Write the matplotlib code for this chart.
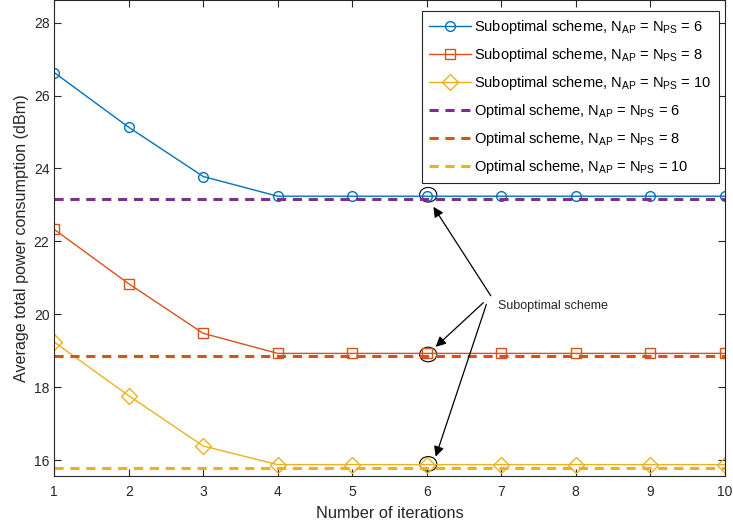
import matplotlib
matplotlib.use('Agg')
import matplotlib.pyplot as plt
from matplotlib.patches import Ellipse

plt.rcParams['font.family'] = ['Liberation Sans', 'DejaVu Sans']
plt.rcParams['mathtext.fontset'] = 'custom'
plt.rcParams['mathtext.rm'] = 'Liberation Sans'

iteracoes = [1, 2, 3, 4, 5, 6, 7, 8, 9, 10]
sub6 = [26.63, 25.13, 23.78, 23.24, 23.24, 23.24, 23.24, 23.24, 23.24, 23.24]
sub8 = [22.33, 20.84, 19.48, 18.93, 18.93, 18.93, 18.93, 18.93, 18.93, 18.93]
sub10 = [19.24, 17.77, 16.39, 15.88, 15.88, 15.88, 15.88, 15.88, 15.88, 15.88]
otimo = [23.15, 18.86, 15.80]
nomes = ['6', '8', '10']

azul = '#0072BD'
vermelho = '#D95319'
amarelo = '#EDB120'
roxo = '#7E2F8E'
cinza = '#262626'

fig = plt.figure(figsize=(7.33, 5.29), dpi=100)
ax = fig.add_axes([0.074, 0.101, 0.9147, 0.899])

sub_label = r'Suboptimal scheme, N$_{\mathregular{AP}}$ = N$_{\mathregular{PS}}$ = '
opt_label = r'Optimal scheme, N$_{\mathregular{AP}}$ = N$_{\mathregular{PS}}$ = '

ax.plot(iteracoes, sub6, '-o', color=azul, lw=1, ms=7, mfc='none', mew=1, label=sub_label + nomes[0])
ax.plot(iteracoes, sub8, '-s', color=vermelho, lw=1, ms=7, mfc='none', mew=1, label=sub_label + nomes[1])
ax.plot(iteracoes, sub10, '-D', color=amarelo, lw=1, ms=8, mfc='none', mew=1, label=sub_label + nomes[2])
for valor, cor, n in zip(otimo, [roxo, vermelho, amarelo], nomes):
    ax.plot(iteracoes, [valor] * len(iteracoes), '--', color=cor, lw=2.2, dashes=(3, 2.2), label=opt_label + n)

# elipses e setas da anotação
for y in [23.28, 18.9, 15.9]:
    ax.add_patch(Ellipse((6.02, y), 0.23, 0.4, fill=False, color='k', lw=0.8))
ax.text(6.95, 20.24, 'Suboptimal scheme', fontsize=9, va='center', ha='left', color=cinza)
for (x0, y0), (x1, y1) in [((6.86, 20.51), (6.09, 22.95)),
                          ((6.76, 20.32), (6.12, 19.11)),
                          ((6.80, 20.27), (6.12, 16.10))]:
    ax.annotate('', xy=(x1, y1), xytext=(x0, y0),
                arrowprops=dict(arrowstyle='-|>', color='k', lw=0.9, mutation_scale=15,
                                shrinkA=0, shrinkB=0))

ax.set_xlim(1, 10)
ax.set_ylim(15.58, 28.62)
ax.set_xticks(iteracoes)
ax.set_yticks([16, 18, 20, 22, 24, 26, 28])
ax.tick_params(direction='in', top=True, right=True, labelsize=10, colors=cinza, length=5)
ax.tick_params(axis='x', pad=7)
for s in ax.spines.values():
    s.set_color(cinza)
    s.set_linewidth(0.8)
ax.set_xlabel('Number of iterations', fontsize=11.8, color=cinza, labelpad=5)
ax.set_ylabel('Average total power consumption (dBm)', fontsize=11.6, color=cinza, labelpad=3)

leg = ax.legend(loc='upper right', fontsize=10.5, handlelength=2.9, borderpad=0.5,
                labelspacing=0.68, handletextpad=0.2, fancybox=False, framealpha=1,
                edgecolor=cinza, borderaxespad=0, bbox_to_anchor=(0.991, 0.977))
leg.get_frame().set_linewidth(0.8)

fig.savefig('out.png', dpi=100)
